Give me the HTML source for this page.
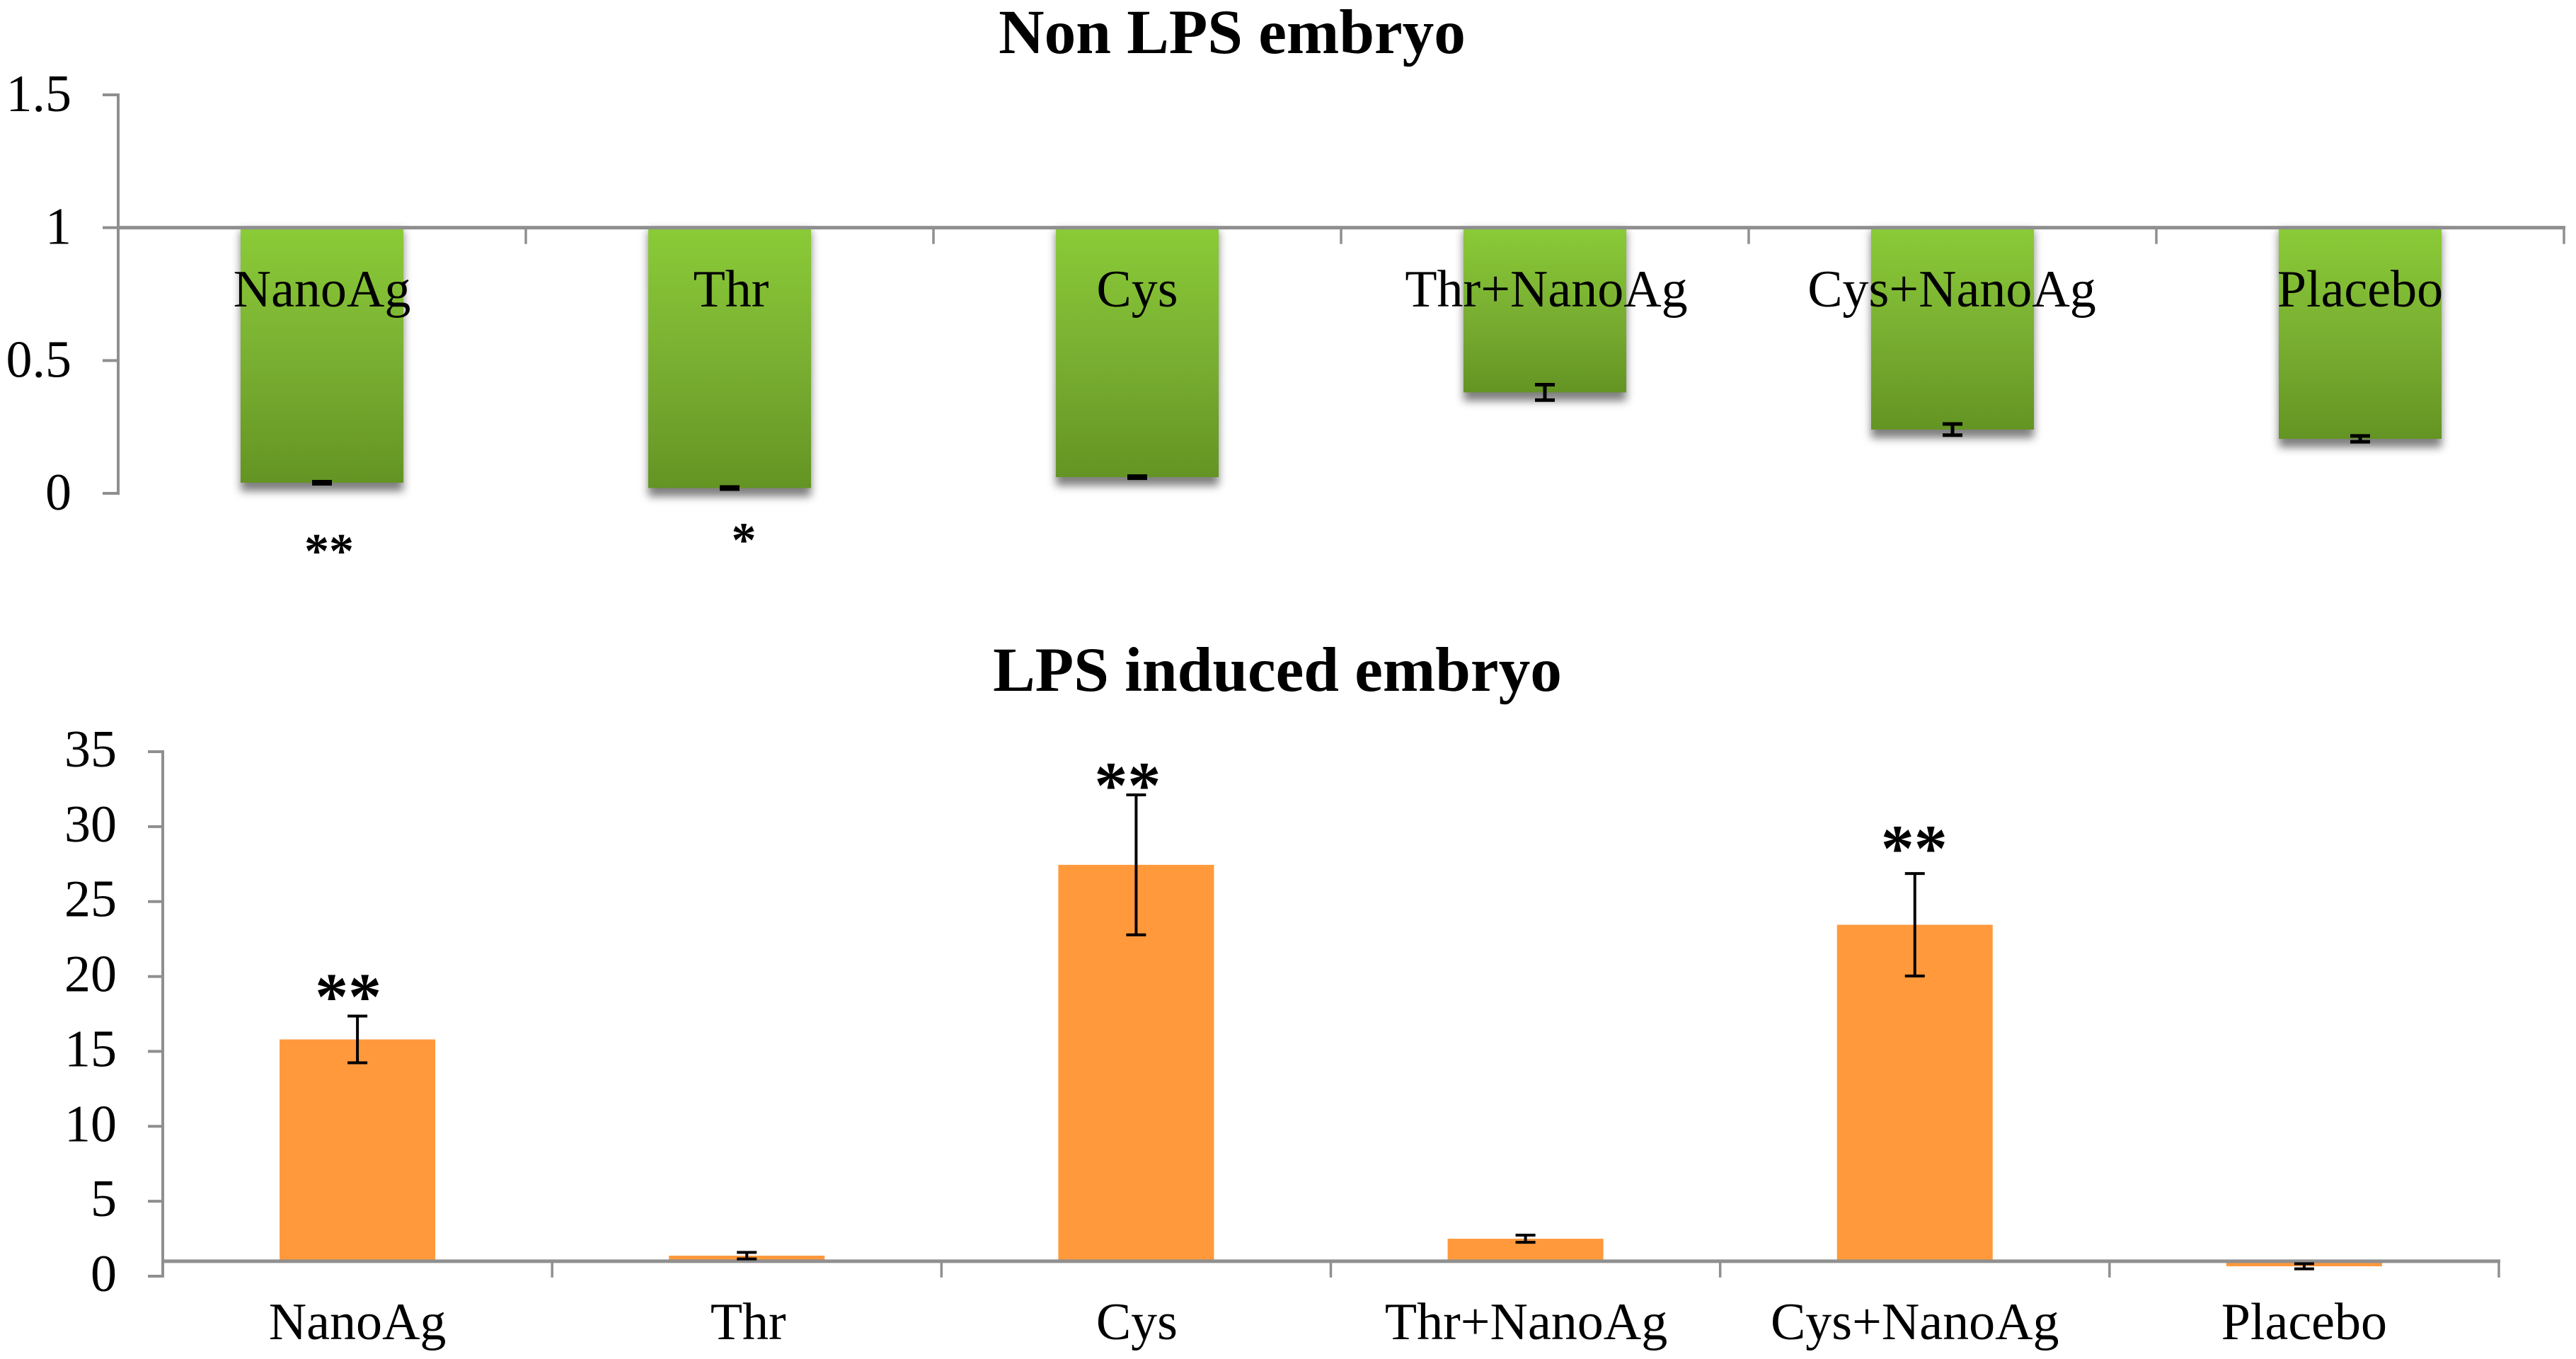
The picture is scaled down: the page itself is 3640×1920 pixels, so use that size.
<!DOCTYPE html>
<html lang="en">
<head>
<meta charset="utf-8">
<title>Non LPS and LPS induced embryo charts</title>
<style>
html,body{margin:0;padding:0;background:#fff;}
body{width:3640px;height:1920px;overflow:hidden;}
svg{display:block;font-family:"Liberation Serif",serif;}
</style>
</head>
<body>
<svg id="figure" xmlns="http://www.w3.org/2000/svg" width="3640" height="1920" viewBox="0 0 3640 1920">
  <defs>
    <linearGradient id="greenFill" x1="0" y1="0" x2="0" y2="1">
      <stop offset="0" stop-color="#8acb37"/>
      <stop offset="0.5" stop-color="#7ab032"/>
      <stop offset="1" stop-color="#649423"/>
    </linearGradient>
    <filter id="barShadow" x="-20%" y="-20%" width="140%" height="140%">
      <feGaussianBlur stdDeviation="6"/>
    </filter>
  </defs>
  <rect width="3640" height="1920" fill="#ffffff"/>
  <text x="1741" y="75" text-anchor="middle" font-size="89.3" font-weight="bold">Non LPS embryo</text>
  <text x="1805" y="976" text-anchor="middle" font-size="89.3" font-weight="bold">LPS induced embryo</text>
  <g id="nonLpsChart"></g>
  <g id="lpsChart"></g>
</svg>
<script>
const categories = ['NanoAg', 'Thr', 'Cys', 'Thr+NanoAg', 'Cys+NanoAg', 'Placebo'];

const nonLpsTicks = [0, 0.5, 1, 1.5];
const nonLpsTickLabels = ['0', '0.5', '1', '1.5'];
const nonLpsValues = [0.04, 0.02, 0.061, 0.38, 0.24, 0.205];
const nonLpsErrors = [0.004, 0.004, 0.004, 0.029, 0.021, 0.011];
const nonLpsStars = ['**', '*', '', '', '', ''];

const lpsTicks = [0, 5, 10, 15, 20, 25, 30, 35];
const lpsTickLabels = ['0', '5', '10', '15', '20', '25', '30', '35'];
const lpsValues = [15.8, 1.37, 27.45, 2.5, 23.45, 0.66];
const lpsErrors = [1.56, 0.22, 4.67, 0.24, 3.42, 0.17];
const lpsStars = ['**', '', '**', '', '**', ''];

const NS = 'http://www.w3.org/2000/svg';
const AXIS_COLOR = '#8f8f8f';

function make(parent, tag, attrs, text) {
  const el = document.createElementNS(NS, tag);
  for (const k in attrs) el.setAttribute(k, attrs[k]);
  if (text !== undefined) el.textContent = text;
  parent.appendChild(el);
  return el;
}

function drawChart(root, cfg) {
  const y = v => cfg.y0 + (cfg.yTop - cfg.y0) * (v - cfg.dMin) / (cfg.dMax - cfg.dMin);
  const band = (cfg.xEnd - cfg.xStart) / cfg.categories.length;
  const cx = i => cfg.xStart + band * (i + 0.5);
  const yBase = y(cfg.baseline);

  // shadows below bars
  if (cfg.shadow) {
    cfg.values.forEach((v, i) => {
      const s = make(root, 'rect', {
        x: cx(i) - cfg.barWidth / 2, y: yBase + 4, width: cfg.barWidth,
        height: Math.abs(y(v) - yBase) + 8, fill: '#000', 'fill-opacity': 0.5, filter: 'url(#barShadow)'
      });
      
      
    });
  }

  // bars
  cfg.values.forEach((v, i) => {
    const top = Math.min(y(v), yBase), bottom = Math.max(y(v), yBase);
    const b = make(root, 'rect', {
      x: cx(i) - cfg.barWidth / 2, y: top, width: cfg.barWidth, height: bottom - top, fill: cfg.fill
    });
    
    
  });

  // y axis
  const yAxis = make(root, 'line', {
    x1: cfg.xStart, x2: cfg.xStart, y1: y(cfg.dMax) - 2, y2: y(cfg.dMin) + 2, stroke: AXIS_COLOR, 'stroke-width': 4
  });
  
  

  cfg.ticks.forEach((t, i) => {
    const tick = make(root, 'line', {
      x1: cfg.xStart - cfg.yTickLen, x2: cfg.xStart, y1: y(t), y2: y(t), stroke: AXIS_COLOR, 'stroke-width': 4
    });
    
    
    const lab = make(root, 'text', {
      x: cfg.yLabelRight, y: y(t) + cfg.yLabelDy, 'text-anchor': 'end', 'font-size': cfg.yFont, fill: '#000'
    }, cfg.tickLabels[i]);
    
    
  });

  // x axis
  const xAxis = make(root, 'line', {
    x1: cfg.xStart, x2: cfg.xEnd + 2, y1: yBase, y2: yBase, stroke: AXIS_COLOR, 'stroke-width': 5
  });
  
  

  for (let i = 1; i <= cfg.categories.length; i++) {
    const tx = cfg.xStart + band * i;
    const xt = make(root, 'line', {
      x1: tx, x2: tx, y1: yBase, y2: yBase + 23, stroke: AXIS_COLOR, 'stroke-width': 3.5
    });
    
    
  }

  // error bars
  cfg.values.forEach((v, i) => {
    const hi = y(v + cfg.errors[i]), lo = y(v - cfg.errors[i]), c = cx(i);
    const g = make(root, 'g', {stroke: '#000', 'stroke-width': cfg.errStroke});
    
    
    make(g, 'line', {x1: c, x2: c, y1: hi, y2: lo});
    make(g, 'line', {x1: c - 14, x2: c + 14, y1: hi, y2: hi});
    make(g, 'line', {x1: c - 14, x2: c + 14, y1: lo, y2: lo});
  });

  // category labels
  cfg.categories.forEach((name, i) => {
    const l = make(root, 'text', {
      x: cx(i) + cfg.labelNudge[i], y: cfg.labelBaseline, 'text-anchor': 'middle', 'font-size': 74, fill: '#000'
    }, name);
    
    
  });

  // significance stars
  cfg.stars.forEach((s, i) => {
    if (!s) return;
    const anchor = cfg.starsBelow ? y(cfg.values[i]) : y(cfg.values[i] + cfg.errors[i]);
    const st = make(root, 'text', {
      x: cx(i) + cfg.starDx[i], y: anchor + cfg.starDy[i], 'text-anchor': 'middle',
      'font-size': cfg.starFont, 'font-weight': 'bold', fill: '#000'
    }, s);
    
    
  });
}

drawChart(document.getElementById('nonLpsChart'), {
  categories: categories, values: nonLpsValues, errors: nonLpsErrors, stars: nonLpsStars,
  ticks: nonLpsTicks, tickLabels: nonLpsTickLabels,
  dMin: 0, dMax: 1.5, baseline: 1,
  y0: 697, yTop: 134, xStart: 167, xEnd: 3623,
  barWidth: 230, fill: 'url(#greenFill)', shadow: true,
  yTickLen: 22, yLabelRight: 101, yLabelDy: 23, yFont: 74,
  labelBaseline: 433, labelNudge: [0, 2, 0, 2, -1, 0],
  errStroke: 5, starFont: 70, starsBelow: true,
  starDx: [10, 20, 0, 0, 0, 0], starDy: [120, 97, 0, 0, 0, 0]
});

drawChart(document.getElementById('lpsChart'), {
  categories: categories, values: lpsValues, errors: lpsErrors, stars: lpsStars,
  ticks: lpsTicks, tickLabels: lpsTickLabels,
  dMin: 0, dMax: 35, baseline: 1,
  y0: 1803, yTop: 1062, xStart: 230, xEnd: 3531,
  barWidth: 220, fill: '#ff993c', shadow: false,
  yTickLen: 21, yLabelRight: 165, yLabelDy: 21, yFont: 74,
  labelBaseline: 1892, labelNudge: [0, 2, 1, 1, 0, 0],
  errStroke: 4, starFont: 94, starsBelow: false,
  starDx: [-13, 0, -12, 0, -1, 0], starDy: [4, 0, 18, 0, -4, 0]
});
</script>
</body>
</html>
